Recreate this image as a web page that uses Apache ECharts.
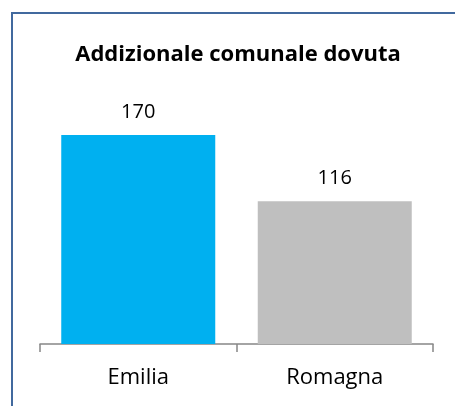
<!DOCTYPE html>
<html>
<head>
<meta charset="utf-8">
<script src="https://cdn.jsdelivr.net/npm/echarts@6/dist/echarts.min.js"></script>
<style>
html,body{margin:0;padding:0;background:#fff;}
#c{width:455px;height:406px;}
</style>
</head>
<body>
<div id="c"></div>
<script>
var titleText = 'Addizionale comunale dovuta';
var categories = ['Emilia', 'Romagna'];
var values = [170, 116];
var colors = ['#00B0F0', '#BFBFBF'];

var chart = echarts.init(document.getElementById('c'), null, {renderer: 'canvas'});
chart.setOption({
  animation: false,
  backgroundColor: '#ffffff',
  title: {
    text: titleText,
    left: 233,
    textAlign: 'center',
    top: 39,
    textStyle: {fontFamily: 'Open Sans', fontWeight: 'bold', fontSize: 22, color: '#000000'}
  },
  graphic: [{
    type: 'rect',
    shape: {x: 12, y: 13, width: 480, height: 450},
    style: {fill: 'none', stroke: '#41699e', lineWidth: 2},
    silent: true
  }],
  grid: {left: 40, right: 22, top: 98, bottom: 62},
  xAxis: {
    type: 'category',
    data: categories,
    axisLine: {lineStyle: {color: '#868686', width: 1.5}},
    axisTick: {show: true, length: 8, lineStyle: {color: '#868686', width: 1.5}},
    axisLabel: {margin: 23, fontFamily: 'Open Sans', fontSize: 22, color: '#000000'}
  },
  yAxis: {
    type: 'value',
    min: 0,
    max: 200,
    show: false,
    splitLine: {show: false}
  },
  series: [{
    type: 'bar',
    barWidth: 154,
    data: values.map(function (v, i) { return {value: v, itemStyle: {color: colors[i]}}; }),
    label: {
      show: true,
      position: 'top',
      distance: 13,
      fontFamily: 'Open Sans',
      fontSize: 20,
      color: '#000000'
    }
  }]
});
</script>
</body>
</html>
